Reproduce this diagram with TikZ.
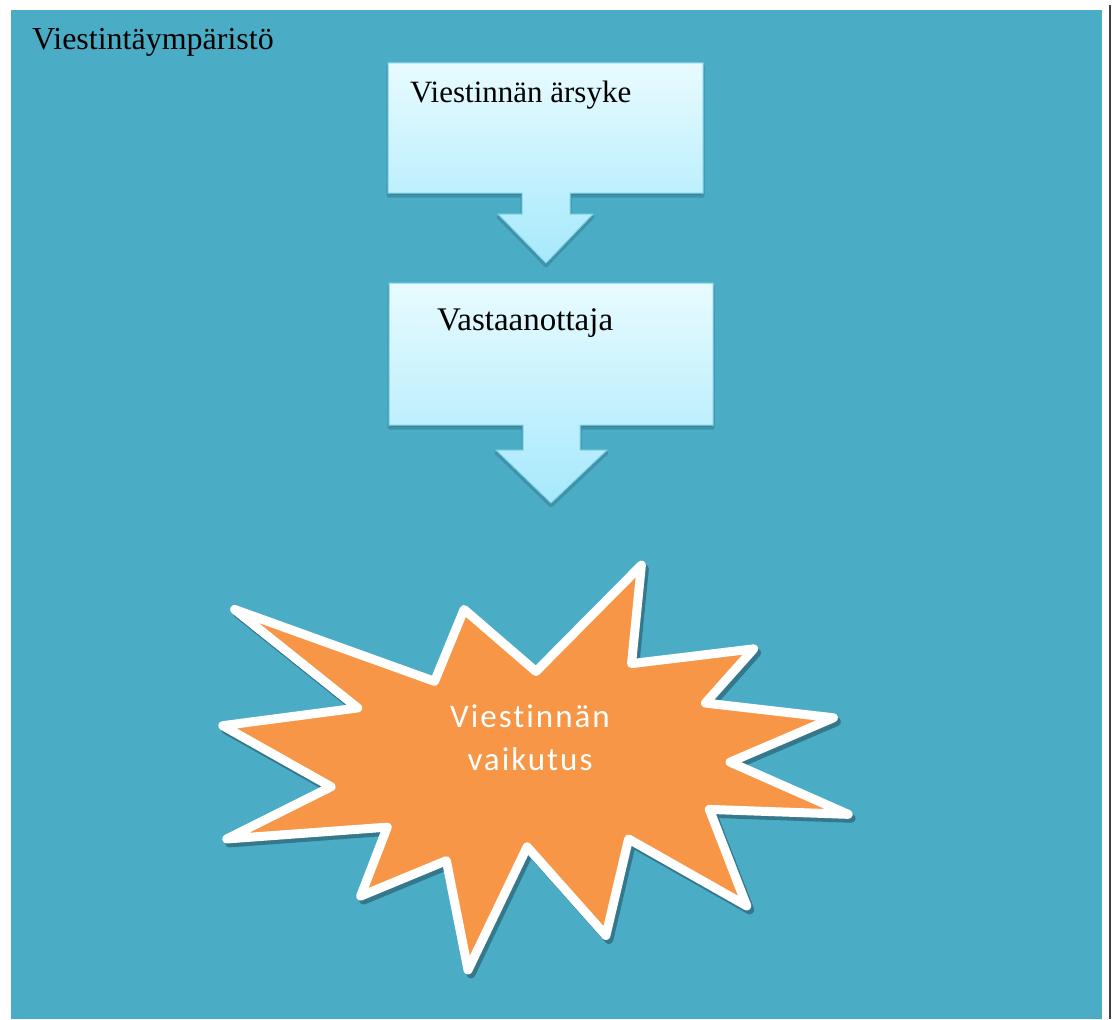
\documentclass[tikz,border=0pt]{standalone}
\usepackage{fontspec}
\setmainfont{Liberation Serif}
\newfontfamily\starfont[LetterSpace=6,Ligatures=NoCommon]{Carlito}
\definecolor{envteal}{HTML}{4BACC6}
\definecolor{boxtop}{HTML}{E8FBFF}
\definecolor{boxbot}{HTML}{A6E9FC}
\definecolor{boxline}{HTML}{7FD3EA}
\definecolor{burst}{HTML}{F79646}
\tikzset{
  boxshape/.style={top color=boxtop, bottom color=boxbot, draw=boxline, line width=1pt, line join=miter},
  boxshadow/.style={fill=envteal!72!black, draw=envteal!85!black, line width=3pt, line join=round},
  boxtext/.style={anchor=base west, inner sep=0pt, font=\fontsize{31}{37}\selectfont},
  burstshape/.style={fill=burst, draw=white, line width=9pt, line join=round},
  burstshadow/.style={fill=envteal!70!black, draw=envteal!70!black, line width=9pt, line join=round},
}
\begin{document}
\begin{tikzpicture}[x=1pt,y=-1pt]
\useasboundingbox (0,0) rectangle (1115,1019);
\fill[white] (0,0) rectangle (1115,1019);
\fill[envteal] (11,10) rectangle (1102,1019);
\draw[line width=2pt, black!75] (1110,5) -- (1110,1019);

\node[boxtext, font=\fontsize{32}{38}\selectfont] (env) at (32,50) {Viestintäympäristö};

% box 1 with arrow
\path[boxshadow, shift={(0,3)}] (388,63) -- (703,63) -- (703,193) -- (570,193) -- (570,214) -- (593,214) -- (546,263) -- (498,214) -- (522,214) -- (522,193) -- (388,193) -- cycle;
\path[boxshape] (388,63) -- (703,63) -- (703,193) -- (570,193) -- (570,214) -- (593,214) -- (546,263) -- (498,214) -- (522,214) -- (522,193) -- (388,193) -- cycle;
\node[boxtext] (stim) at (410,103) {Viestinnän ärsyke};

% box 2 with arrow
\path[boxshadow, shift={(0,3)}] (389,283) -- (713,283) -- (713,425) -- (580,425) -- (580,450) -- (607,450) -- (551,503) -- (496,450) -- (523,450) -- (523,425) -- (389,425) -- cycle;
\path[boxshape] (389,283) -- (713,283) -- (713,425) -- (580,425) -- (580,450) -- (607,450) -- (551,503) -- (496,450) -- (523,450) -- (523,425) -- (389,425) -- cycle;
\node[boxtext, font=\fontsize{33}{39}\selectfont] (recv) at (437,330) {Vastaanottaja};

% burst
\begin{scope}[shift={(535,770)}, scale=0.985, shift={(-535,-770)}]
\path[burstshadow, shift={(3,4)}] (230,607) -- (433,680) -- (463,607) -- (536,670) -- (643,562) -- (633,662) -- (757,647) -- (708,702) -- (838,717) -- (733,762) -- (853,815) -- (712,810) -- (750,908) -- (630,840) -- (607,938) -- (527,848) -- (467,973) -- (445,862) -- (358,898) -- (385,828) -- (222,840) -- (328,787) -- (218,725) -- (355,707) -- cycle;
\path[burstshape] (230,607) -- (433,680) -- (463,607) -- (536,670) -- (643,562) -- (633,662) -- (757,647) -- (708,702) -- (838,717) -- (733,762) -- (853,815) -- (712,810) -- (750,908) -- (630,840) -- (607,938) -- (527,848) -- (467,973) -- (445,862) -- (358,898) -- (385,828) -- (222,840) -- (328,787) -- (218,725) -- (355,707) -- cycle;
\end{scope}
\node[text=white, align=center, inner sep=0pt, font=\starfont\fontsize{33}{43}\selectfont] (effect) at (530,738) {Viestinnän\\vaikutus};
\end{tikzpicture}
\end{document}
